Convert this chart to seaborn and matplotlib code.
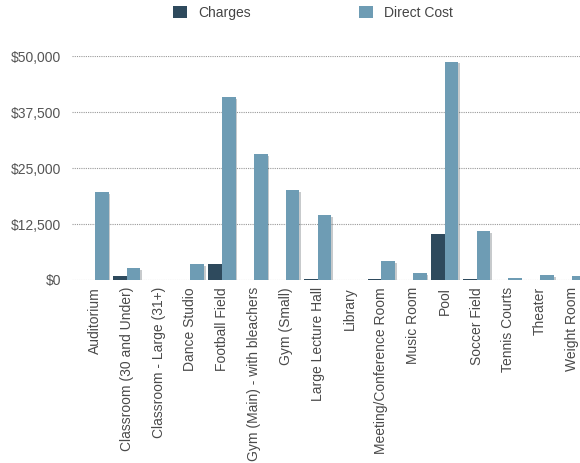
import matplotlib
matplotlib.use("Agg")
import matplotlib.pyplot as plt
import matplotlib.patheffects as pe
from matplotlib.patches import Patch
import seaborn as sns
import pandas as pd

categories = ["Auditorium", "Classroom (30 and Under)", "Classroom - Large (31+)",
              "Dance Studio", "Football Field", "Gym (Main) - with bleachers",
              "Gym (Small)", "Large Lecture Hall", "Library",
              "Meeting/Conference Room", "Music Room", "Pool", "Soccer Field",
              "Tennis Courts", "Theater", "Weight Room"]
charges = [0, 800, 0, 0, 3600, 0, 0, 300, 0, 300, 0, 10300, 300, 0, 0, 0]
direct_cost = [19600, 2700, 0, 3600, 40800, 28100, 20000, 14500, 0, 4200,
               1500, 48700, 10900, 450, 1100, 900]
series = ["Charges", "Direct Cost"]
colors = ["#2e4a5d", "#6e9cb4"]
yticks = [0, 12500, 25000, 37500, 50000]
ytick_labels = ["$0", "$12,500", "$25,000", "$37,500", "$50,000"]

df = pd.DataFrame({
    "Category": categories * 2,
    "Series": [series[0]] * len(categories) + [series[1]] * len(categories),
    "Value": charges + direct_cost,
})

sns.set_theme(style="white")
plt.rcParams["font.family"] = ["Liberation Sans", "DejaVu Sans"]

fig = plt.figure(figsize=(5.8, 4.63), dpi=100)
ax = fig.add_axes([72 / 580, 1 - 280 / 463, (580 - 72) / 580, (280 - 56) / 463])

sns.barplot(data=df, x="Category", y="Value", hue="Series", order=categories,
            hue_order=series, palette=colors, width=0.86, ax=ax,
            saturation=1, legend=False, linewidth=0)

for p in ax.patches:
    p.set_path_effects([pe.SimplePatchShadow(offset=(1.2, -1.2), alpha=0.25),
                        pe.Normal()])

ax.set_ylim(0, 50000)
ax.set_xlim(-0.72, 15.25)
ax.set_yticks(yticks)
ax.set_yticklabels(ytick_labels, fontsize=10, color="#555555")
for t in ax.get_yticklabels():
    t.set_ha("right")
ax.tick_params(axis="y", length=0, pad=8)
ax.tick_params(axis="x", length=0, pad=5)
ax.set_xticks(range(len(categories)))
ax.set_xticklabels(categories, rotation=90, fontsize=10, color="#4a4a4a",
                   va="top", ha="center")
ax.set_xlabel("")
ax.set_ylabel("")
for s in ax.spines.values():
    s.set_visible(False)
ax.yaxis.grid(True, linestyle=(0, (1, 1)), color="#999999", linewidth=0.8)
ax.set_axisbelow(True)

handles = [Patch(facecolor=c, edgecolor="none") for c in colors]
fig.legend(handles, series, loc="upper center", bbox_to_anchor=(0.54, 1.015),
           ncol=2, frameon=False, fontsize=10, handlelength=1.0,
           handleheight=1.0, columnspacing=7.8, handletextpad=0.8,
           labelcolor="#444444")

fig.savefig("out.png", dpi=100)
